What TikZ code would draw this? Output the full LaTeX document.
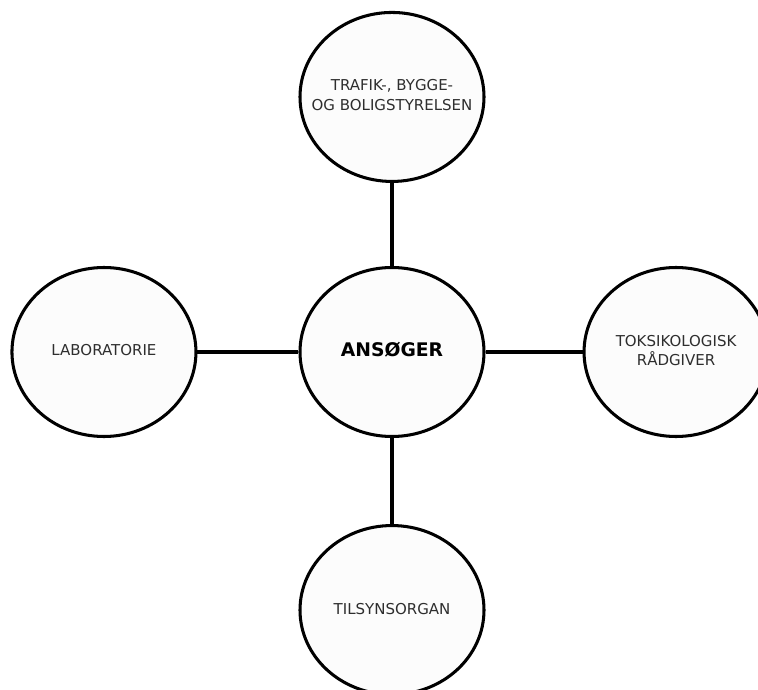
\documentclass[tikz,border=0pt]{standalone}
\usepackage{fontspec}
\setmainfont{DejaVu Sans}
\usepackage{xcolor}
\definecolor{lineDark}{HTML}{000000}
\definecolor{textGray}{HTML}{2E2E2E}
\definecolor{circleFill}{HTML}{FCFCFC}
\usepackage{tikz}
\usetikzlibrary{positioning,shapes.geometric}
% text that does not widen the ellipse
\newcommand{\partyText}[1]{\makebox[0pt]{\begin{tabular}{@{}c@{}}#1\end{tabular}}}
\tikzset{
  partyBox/.style={
    ellipse,
    draw=lineDark,
    line width=2.6pt,
    fill=circleFill,
    minimum width=5.52cm,
    minimum height=5.07cm,
    inner sep=0pt,
    text=textGray,
    font=\fontsize{12.8}{17}\selectfont
 },
  mainBox/.style={
    partyBox,
    text=black,
    font=\fontsize{16}{18}\selectfont\bfseries
 },
  linkLine/.style={
    line width=2.6pt,
    color=lineDark
 }
}

\begin{document}
\begin{tikzpicture}
            \useasboundingbox (0,0) rectangle (22.74,-20.7);
            \clip (0,0) rectangle (22.74,-20.7);

            \node[mainBox] (applicant) at (11.76,-10.56) {\partyText{ANSØGER}};
            \node[partyBox, above=2.49cm of applicant] (agency) {\partyText{TRAFIK-, BYGGE-\\OG BOLIGSTYRELSEN}};
            \node[partyBox, left=3.03cm of applicant] (lab) {\partyText{LABORATORIE}};
            \node[partyBox, right=2.91cm of applicant] (advisor) {\partyText{TOKSIKOLOGISK\\RÅDGIVER}};
            \node[partyBox, below=2.58cm of applicant] (authority) {\partyText{TILSYNSORGAN}};

            \draw[linkLine] (agency) -- (applicant);
            \draw[linkLine] (lab) -- (applicant);
            \draw[linkLine] (applicant) -- (advisor);
            \draw[linkLine] (applicant) -- (authority);
        \end{tikzpicture}
\end{document}
